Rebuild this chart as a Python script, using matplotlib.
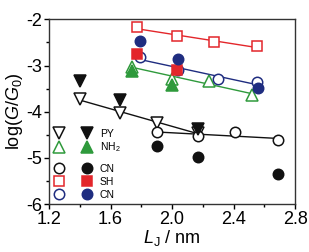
import numpy as np
import matplotlib
matplotlib.use("Agg")
import matplotlib.pyplot as plt
from matplotlib.ticker import MultipleLocator
from matplotlib.legend_handler import HandlerTuple

plt.rcParams['font.family'] = ['Liberation Sans', 'DejaVu Sans']
plt.rcParams['mathtext.fontset'] = 'custom'
plt.rcParams['mathtext.rm'] = 'Liberation Sans'
plt.rcParams['mathtext.it'] = 'Liberation Sans:italic'
plt.rcParams['axes.unicode_minus'] = False

# PY (black triangles down)
py_open_x = [1.40, 1.66, 1.90, 2.17]
py_open_y = [-3.72, -4.02, -4.25, -4.45]
py_fill_x = [1.40, 1.66, 2.17]
py_fill_y = [-3.33, -3.74, -4.37]

# NH2 (green triangles up)
nh_open_x = [1.74, 2.00, 2.24, 2.52]
nh_open_y = [-3.02, -3.29, -3.34, -3.63]
nh_fill_x = [1.74, 2.00]
nh_fill_y = [-3.12, -3.41]

# CN (black circles)
cnk_open_x = [1.90, 2.17, 2.41, 2.69]
cnk_open_y = [-4.44, -4.53, -4.44, -4.62]
cnk_fill_x = [1.90, 2.17, 2.69]
cnk_fill_y = [-4.75, -4.99, -5.35]

# SH (red squares)
sh_open_x = [1.77, 2.03, 2.27, 2.55]
sh_open_y = [-2.17, -2.37, -2.49, -2.58]
sh_fill_x = [1.77, 2.03]
sh_fill_y = [-2.75, -3.10]

# CN (blue circles)
cnb_open_x = [1.79, 2.04, 2.30, 2.55]
cnb_open_y = [-2.82, -3.09, -3.29, -3.36]
cnb_fill_x = [1.79, 2.04, 2.56]
cnb_fill_y = [-2.47, -2.85, -3.48]

red = '#e3262b'
blue = '#1f2d80'
green = '#2f9a3c'
black = '#111111'

fig = plt.figure(figsize=(3.09, 2.52), dpi=100)
ax = fig.add_axes([0.159, 0.19, 0.796, 0.733])

def fitline(x, y, c):
    p = np.polyfit(x, y, 1)
    xs = np.array([min(x), max(x)])
    ax.plot(xs, np.polyval(p, xs), '-', color=c, lw=1.0, zorder=1)

fitline(py_open_x, py_open_y, black)
fitline(cnk_open_x, cnk_open_y, black)
fitline(sh_open_x, sh_open_y, red)
fitline(nh_open_x, nh_open_y, green)
fitline(cnb_open_x, cnb_open_y, blue)

mew = 1.1
def pts(x, y, m, c, ms, filled):
    fc = c if filled else 'white'
    h, = ax.plot(x, y, ls='none', marker=m, ms=ms, mfc=fc, mec=c, mew=mew,
                 zorder=3 if filled else 2)
    return h

h_py_o = pts(py_open_x, py_open_y, 'v', black, 9, False)
h_nh_o = pts(nh_open_x, nh_open_y, '^', green, 9, False)
h_ck_o = pts(cnk_open_x, cnk_open_y, 'o', black, 7.5, False)
h_sh_o = pts(sh_open_x, sh_open_y, 's', red, 6.5, False)
h_cb_o = pts(cnb_open_x, cnb_open_y, 'o', blue, 7.5, False)
h_py_f = pts(py_fill_x, py_fill_y, 'v', black, 9, True)
h_nh_f = pts(nh_fill_x, nh_fill_y, '^', green, 9, True)
h_ck_f = pts(cnk_fill_x, cnk_fill_y, 'o', black, 7.5, True)
h_sh_f = pts(sh_fill_x, sh_fill_y, 's', red, 6.5, True)
h_cb_f = pts(cnb_fill_x, cnb_fill_y, 'o', blue, 7.5, True)

ax.set_xlim(1.2, 2.8)
ax.set_ylim(-6, -2)
ax.xaxis.set_major_locator(MultipleLocator(0.4))
ax.xaxis.set_minor_locator(MultipleLocator(0.2))
ax.yaxis.set_major_locator(MultipleLocator(1))
ax.yaxis.set_minor_locator(MultipleLocator(0.5))
ax.xaxis.set_major_formatter(plt.FormatStrFormatter('%.1f'))
ax.tick_params(which='major', length=3.5, width=1, labelsize=13, pad=1.5)
ax.tick_params(which='minor', length=2, width=1)
for s in ax.spines.values():
    s.set_linewidth(1.0)
    s.set_color('#333333')

ax.set_xlabel(r'$\mathit{L}_\mathrm{J}$ / nm', fontsize=13, labelpad=0)
ax.set_ylabel(r'log($\mathit{G}$/$\mathit{G}_0$)', fontsize=13, labelpad=1)

hkw = dict(handler_map={tuple: HandlerTuple(ndivide=None, pad=1.33)},
           handlelength=4.0, handletextpad=0.6, frameon=False, fontsize=7.5,
           borderpad=0, borderaxespad=0, loc='upper left')
leg1 = ax.legend([(h_py_o, h_py_f), (h_nh_o, h_nh_f)], ['PY', r'NH$_2$'],
                 bbox_to_anchor=(0.012, 0.409), labelspacing=0.17, **hkw)
ax.add_artist(leg1)
ax.legend([(h_ck_o, h_ck_f), (h_sh_o, h_sh_f), (h_cb_o, h_cb_f)],
          ['CN', 'SH', 'CN'], bbox_to_anchor=(0.012, 0.219),
          labelspacing=0.3, **hkw)

fig.savefig('out.png', dpi=100)
